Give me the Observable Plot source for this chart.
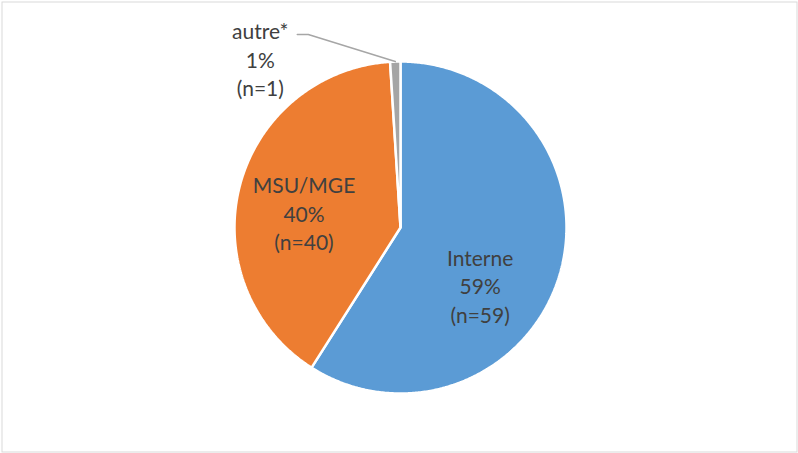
<!DOCTYPE html>
<html><head><meta charset="utf-8">
<script src="https://cdn.jsdelivr.net/npm/d3@7"></script>
<script src="https://cdn.jsdelivr.net/npm/@observablehq/plot@0.6"></script>
<style>html,body{margin:0;background:#fff} svg{display:block}</style>
</head><body><div id="chart"></div>
<script>
// ---- data ----
const categories = ["Interne", "MSU/MGE", "autre*"];
const counts = [59, 40, 1];
const colors = ["#5B9BD5", "#ED7D31", "#A5A5A5"];

// ---- layout ----
const W = 798, H = 453, R = 166, CX = 400, CY = 227;
const total = d3.sum(counts);
const rows = categories.map((c, i) => ({cat: c, n: counts[i], pct: Math.round(counts[i] / total * 100)}));
const arcs = d3.pie().sort(null).value(d => d.n)(rows);

const slicePts = [];
arcs.forEach(p => {
  const steps = Math.max(4, Math.ceil((p.endAngle - p.startAngle) / (Math.PI / 360)));
  slicePts.push({cat: p.data.cat, x: 0, y: 0});
  for (let k = 0; k <= steps; k++) {
    const a = p.startAngle + (p.endAngle - p.startAngle) * k / steps;
    slicePts.push({cat: p.data.cat, x: Math.sin(a), y: Math.cos(a)});
  }
  slicePts.push({cat: p.data.cat, x: 0, y: 0});
});

const labels = arcs.map(p => {
  const m = (p.startAngle + p.endAngle) / 2;
  return {
    cat: p.data.cat,
    text: `${p.data.cat}\n${p.data.pct}%\n(n=${p.data.n})`,
    ix: 0.6 * Math.sin(m), iy: 0.6 * Math.cos(m),   // inside centroid
    ox: Math.sin(m), oy: Math.cos(m)                 // arc edge
  };
});
const outside = labels.filter(d => d.cat === "autre*");
// leader line: from arc edge to an elbow, then a short horizontal run
const leader = outside.flatMap(d => [
  {x: d.ox, y: d.oy},
  {x: d.ox - 87 / R, y: d.oy + 27 / R},
  {x: d.ox - 98 / R, y: d.oy + 27 / R}
]);

const font = "Lato, 'Open Sans', sans-serif";
const textOpts = {text: "text", fontSize: 21, lineHeight: 1.36, fill: "#404040", fontFamily: font};

const chart = Plot.plot({
  width: W, height: H,
  marginTop: 0, marginBottom: 0, marginLeft: 0, marginRight: 0,
  x: {domain: [-CX / R, (W - CX) / R], axis: null},
  y: {domain: [-(H - CY) / R, CY / R], axis: null},
  color: {domain: categories, range: colors},
  style: {background: "#fff", overflow: "visible"},
  marks: [
    Plot.frame({stroke: "#D9D9D9", inset: 1.5}),
    Plot.line(slicePts, {x: "x", y: "y", z: "cat", fill: "cat", stroke: "white", strokeWidth: 2.5, curve: "linear-closed", strokeLinejoin: "miter"}),
    Plot.line(leader, {x: "x", y: "y", stroke: "#A6A6A6", strokeWidth: 1.5}),
    Plot.text(labels.filter(d => d.cat === "Interne"), {x: "ix", y: "iy", dx: -16, dy: 30, ...textOpts}),
    Plot.text(labels.filter(d => d.cat === "MSU/MGE"), {x: "ix", y: "iy", dx: 0, dy: 10, ...textOpts}),
    Plot.text(outside, {x: "ox", y: "oy", dx: -135, dy: -3, ...textOpts})
  ]
});
document.getElementById("chart").append(chart);
</script>
</body></html>
